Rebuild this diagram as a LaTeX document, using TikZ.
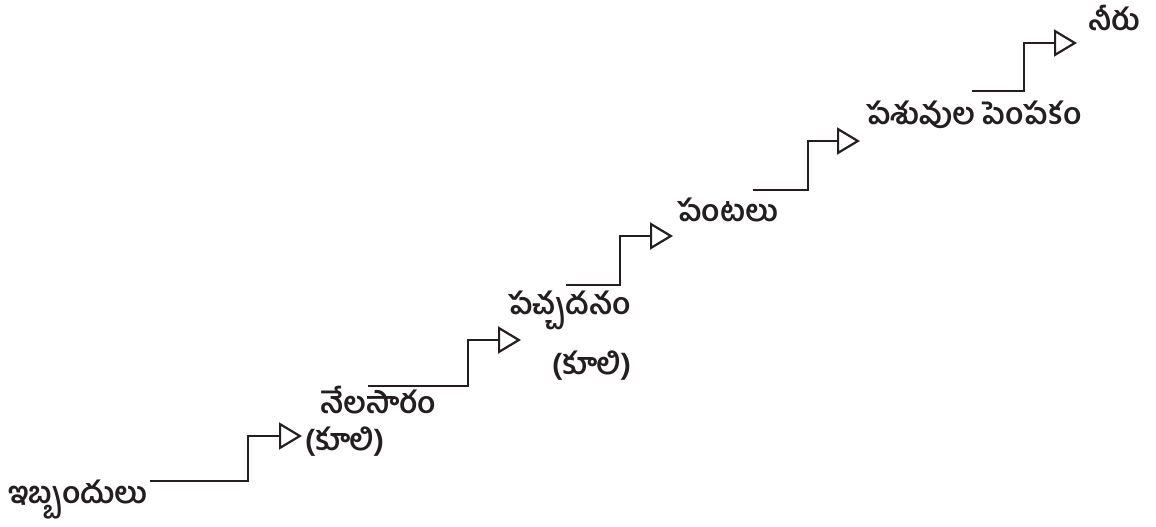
\documentclass[tikz,border=0pt]{standalone}
\usepackage{fontspec}
\newfontfamily\te[Script=Telugu]{Hind Guntur}
\usetikzlibrary{arrows.meta}
\definecolor{ink}{HTML}{231F20}
\tikzset{
  stepline/.style={draw=ink, line width=2.4pt, line join=miter,
    -{Triangle[open, length=23pt, width=27pt, line width=2.2pt]}},
  lbl/.style={text=ink, inner sep=0pt, anchor=west, font=\te\bfseries\fontsize{30}{36}\selectfont}
}
\begin{document}
\begin{tikzpicture}[x=1pt,y=-1pt]
\useasboundingbox (0,0) rectangle (1156,527);
% labels
\node[lbl] (l0) at (8,500) {ఇబ్బందులు};
\node[lbl] (l1) at (320,400) {నేలసారం};
\node[lbl] (l1b) at (305,442) {(కూలి)};
\node[lbl] (l2) at (508,310) {పచ్చదనం};
\node[lbl] (l2b) at (552,366) {(కూలి)};
\node[lbl] (l3) at (677,210) {పంటలు};
\node[lbl] (l4) at (866,115) {పశువుల పెంపకం};
\node[lbl] (l5) at (1088,18) {నీరు};
% steps
\coordinate (s1) at (150,481); \coordinate (t1) at (302,436);
\coordinate (s2) at (368,386); \coordinate (t2) at (521,340);
\coordinate (s3) at (566,285); \coordinate (t3) at (673,236);
\coordinate (s4) at (753,190); \coordinate (t4) at (860,141);
\coordinate (s5) at (972,91);  \coordinate (t5) at (1077,43);
\draw[stepline] (s1) -- (248,481) -- (248,436) -- (t1);
\draw[stepline] (s2) -- (468,386) -- (468,340) -- (t2);
\draw[stepline] (s3) -- (620,285) -- (620,236) -- (t3);
\draw[stepline] (s4) -- (808,190) -- (808,141) -- (t4);
\draw[stepline] (s5) -- (1024,91) -- (1024,43) -- (t5);
\end{tikzpicture}
\end{document}
